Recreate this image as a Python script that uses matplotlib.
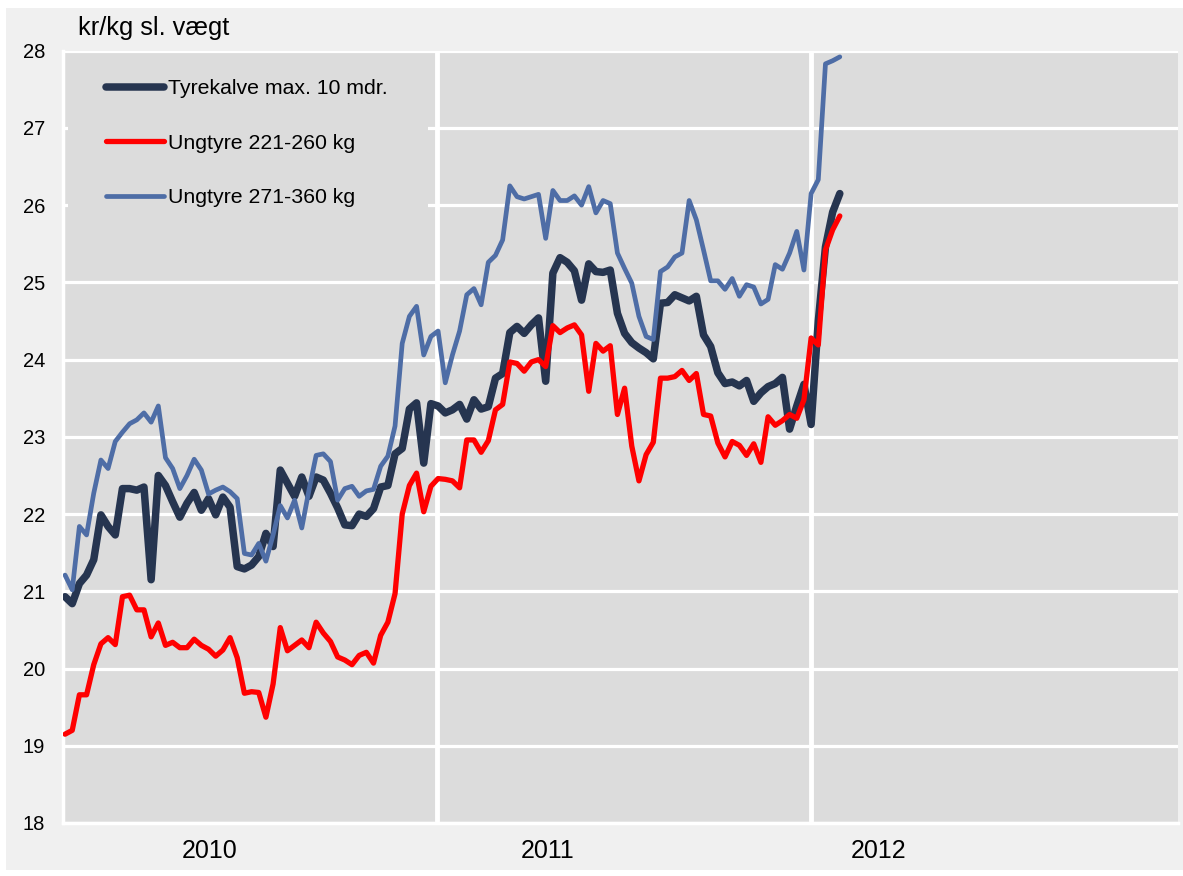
import pandas as pd
import matplotlib.pyplot as plt
from matplotlib.patches import Rectangle

plt.rcParams['font.family'] = ['Liberation Sans', 'DejaVu Sans']

# Weekly prices, kr/kg slaughter weight, week 1 2010 to week 5 2012
weeks = pd.date_range('2010-01-03', periods=109, freq='7D')

tyrekalve = [
    20.93, 20.84, 21.10, 21.21, 21.41, 21.99, 21.84, 21.73, 22.33, 22.33,
    22.31, 22.35, 21.15, 22.50, 22.37, 22.16, 21.96, 22.14, 22.28, 22.05,
    22.20, 21.99, 22.22, 22.09, 21.32, 21.29, 21.34, 21.45, 21.75, 21.58,
    22.57, 22.40, 22.23, 22.48, 22.23, 22.48, 22.44, 22.27, 22.08, 21.86,
    21.85, 22.00, 21.97, 22.07, 22.35, 22.37, 22.78, 22.85, 23.36, 23.44,
    22.66, 23.43, 23.40, 23.31, 23.35, 23.42, 23.23, 23.48, 23.36, 23.39,
    23.76, 23.82, 24.35, 24.43, 24.34, 24.45, 24.54, 23.72, 25.12, 25.32,
    25.26, 25.15, 24.77, 25.24, 25.14, 25.13, 25.16, 24.60, 24.34, 24.22,
    24.15, 24.09, 24.01, 24.73, 24.74, 24.84, 24.80, 24.76, 24.82, 24.32,
    24.17, 23.83, 23.69, 23.71, 23.66, 23.73, 23.46, 23.57, 23.65, 23.69,
    23.77, 23.10, 23.40, 23.68, 23.16, 24.50, 25.46, 25.91, 26.15,
]

ungtyre_221_260 = [
    19.15, 19.20, 19.66, 19.66, 20.05, 20.32, 20.40, 20.31, 20.93, 20.95,
    20.76, 20.76, 20.41, 20.59, 20.30, 20.34, 20.27, 20.27, 20.38, 20.30,
    20.25, 20.16, 20.24, 20.40, 20.14, 19.68, 19.70, 19.69, 19.37, 19.80,
    20.53, 20.23, 20.30, 20.37, 20.27, 20.60, 20.46, 20.35, 20.15, 20.11,
    20.05, 20.17, 20.21, 20.07, 20.43, 20.60, 20.97, 22.00, 22.37, 22.53,
    22.03, 22.36, 22.46, 22.45, 22.43, 22.34, 22.96, 22.96, 22.80, 22.95,
    23.35, 23.42, 23.97, 23.95, 23.85, 23.97, 24.00, 23.91, 24.44, 24.35,
    24.41, 24.45, 24.32, 23.59, 24.21, 24.11, 24.18, 23.29, 23.63, 22.88,
    22.43, 22.77, 22.93, 23.76, 23.76, 23.78, 23.86, 23.73, 23.82, 23.29,
    23.27, 22.92, 22.74, 22.94, 22.89, 22.76, 22.91, 22.67, 23.26, 23.15,
    23.21, 23.29, 23.24, 23.48, 24.28, 24.19, 25.42, 25.68, 25.86,
]

ungtyre_271_360 = [
    21.21, 21.02, 21.84, 21.73, 22.27, 22.70, 22.59, 22.94, 23.06, 23.17,
    23.22, 23.31, 23.19, 23.40, 22.73, 22.59, 22.33, 22.50, 22.71, 22.57,
    22.26, 22.31, 22.35, 22.29, 22.20, 21.49, 21.47, 21.62, 21.39, 21.73,
    22.11, 21.95, 22.18, 21.82, 22.31, 22.76, 22.78, 22.68, 22.18, 22.33,
    22.36, 22.23, 22.30, 22.32, 22.62, 22.75, 23.14, 24.21, 24.56, 24.69,
    24.06, 24.30, 24.37, 23.70, 24.06, 24.37, 24.84, 24.92, 24.71, 25.26,
    25.35, 25.55, 26.25, 26.11, 26.08, 26.11, 26.14, 25.57, 26.19, 26.06,
    26.06, 26.12, 26.00, 26.24, 25.90, 26.06, 26.02, 25.38, 25.18, 24.99,
    24.56, 24.30, 24.26, 25.14, 25.20, 25.33, 25.38, 26.06, 25.81, 25.42,
    25.02, 25.02, 24.91, 25.05, 24.82, 24.97, 24.94, 24.72, 24.78, 25.23,
    25.17, 25.38, 25.66, 25.16, 26.15, 26.33, 27.83, 27.87, 27.92,
]

years = ['2010', '2011', '2012']
yticks = list(range(18, 29))

# x as days since 1 Jan 2010
start = pd.Timestamp('2010-01-01')
x = (weeks - start).days

W, H = 1183, 876
fig = plt.figure(figsize=(W / 100, H / 100), dpi=100)
fig.patch.set_facecolor('white')
fig.add_artist(Rectangle((6 / W, 1 - 870 / H), 1 - 6 / W, 862 / H,
                         transform=fig.transFigure, facecolor='#F0F0F0',
                         edgecolor='none', zorder=-1))

ax = fig.add_axes([63 / W, 1 - 823 / H, 1115 / W, (823 - 50.7) / H])
ax.set_facecolor('#DCDCDC')
ax.set_axisbelow(True)

ax.plot(x, tyrekalve, color='#263550', lw=5.4, label='Tyrekalve max. 10 mdr.',
        solid_joinstyle='round', solid_capstyle='round', zorder=3)
ax.plot(x, ungtyre_221_260, color='#FF0000', lw=3.8, label='Ungtyre 221-260 kg',
        solid_joinstyle='round', solid_capstyle='round', zorder=3)
ax.plot(x, ungtyre_271_360, color='#4E6DA6', lw=3.4, label='Ungtyre 271-360 kg',
        solid_joinstyle='round', solid_capstyle='round', zorder=3)

ax.set_xlim(0, 1088)
ax.set_ylim(18, 28)
ax.set_yticks(yticks)
ax.yaxis.grid(True, color='white', lw=2.3)

# year boundaries
for d in [365, 730]:
    ax.axvline(d, color='white', lw=3.5, zorder=1)

# year labels
ax.set_xticks([143, 473, 796])
ax.set_xticklabels(years, fontsize=18)
ax.tick_params(axis='x', length=0, pad=11.5)
ax.tick_params(axis='y', length=0, pad=13, labelsize=14.5)

for s in ['top', 'right']:
    ax.spines[s].set_visible(False)
for s in ['left', 'bottom']:
    ax.spines[s].set_color('white')
    ax.spines[s].set_linewidth(2.5)

# legend area hides the grid lines behind it
ax.add_patch(Rectangle((5 / 1115, (823 - 225) / 772.3), 360 / 1115, 170 / 772.3,
                       transform=ax.transAxes, facecolor='#DCDCDC',
                       edgecolor='none', zorder=1))
ax.legend(loc='upper left', bbox_to_anchor=(106 / W, 1 - 79 / H),
          bbox_transform=fig.transFigure, frameon=False, fontsize=15.3,
          handlelength=2.75, handletextpad=0.15, labelspacing=1.68,
          borderpad=0, borderaxespad=0)

fig.text(78 / W, 1 - 35 / H, 'kr/kg sl. vægt', fontsize=18.3, va='baseline')

plt.savefig('out.png', dpi=100, facecolor=fig.get_facecolor())
